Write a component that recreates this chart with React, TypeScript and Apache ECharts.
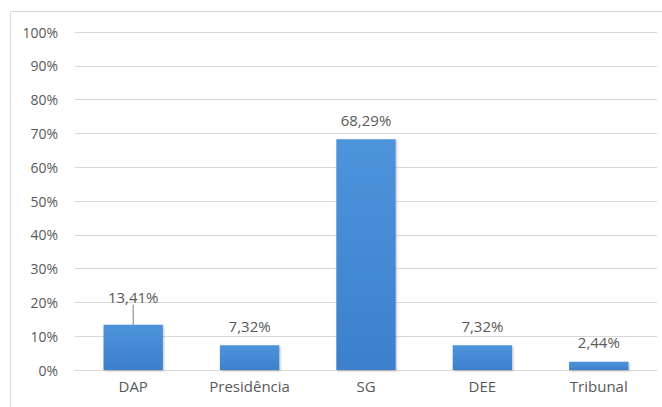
import React, { useEffect, useRef } from "react";
import * as echarts from "echarts";

const categories = ["DAP", "Presidência", "SG", "DEE", "Tribunal"];
const values = [13.41, 7.32, 68.29, 7.32, 2.44];
const yTicks = [0, 10, 20, 30, 40, 50, 60, 70, 80, 90, 100];

export default function App() {
  const ref = useRef<HTMLDivElement>(null);
  useEffect(() => {
    document.body.style.margin = "0";
    const chart = echarts.init(ref.current!, undefined, { renderer: "svg" });
    const font = "Open Sans";
    chart.setOption({
      animation: false,
      backgroundColor: "#ffffff",
      textStyle: { fontFamily: font },
      graphic: [
        {
          type: "rect",
          shape: { x: 10.5, y: 11.5, width: 700, height: 500 },
          style: { fill: "none", stroke: "#d9d9d9", lineWidth: 1 },
          silent: true,
        },
      ],
      grid: { left: 75, right: 5, top: 32, bottom: 37 },
      xAxis: {
        type: "category",
        data: categories,
        axisLine: { lineStyle: { color: "#d9d9d9" } },
        axisTick: { show: false },
        axisLabel: { color: "#595959", fontSize: 15, margin: 8, fontFamily: font },
      },
      yAxis: {
        type: "value",
        min: yTicks[0],
        max: yTicks[yTicks.length - 1],
        interval: 10,
        axisLine: { show: false },
        axisTick: { show: false },
        splitLine: { lineStyle: { color: "#d9d9d9" } },
        axisLabel: {
          color: "#595959",
          fontSize: 14,
          margin: 17,
          fontFamily: font,
          formatter: (v: number) => v + "%",
        },
      },
      series: [
        {
          type: "bar",
          data: values.map((v, i) =>
            i === 0
              ? { value: v, labelLine: { show: true } }
              : { value: v, labelLine: { show: false } }
          ),
          barWidth: "51%",
          itemStyle: {
            color: new echarts.graphic.LinearGradient(0, 0, 0, 1, [
              { offset: 0, color: "#4d94dc" },
              { offset: 1, color: "#3c80cc" },
            ]),
            shadowColor: "rgba(0,0,0,0.25)",
            shadowBlur: 2,
            shadowOffsetX: 1,
            shadowOffsetY: 1,
          },
          label: {
            show: true,
            position: "top",
            distance: 12,
            color: "#595959",
            fontSize: 15,
            fontFamily: font,
            formatter: (p: any) => p.value.toFixed(2).replace(".", ",") + "%",
          },
          labelLine: { show: false, lineStyle: { color: "#7f7f7f", width: 1 } },
          labelLayout: (p: any) => (p.dataIndex === 0 ? { dy: -8 } : {}),
        },
      ],
    });
    return () => chart.dispose();
  }, []);
  return <div ref={ref} style={{ width: 662, height: 407 }} />;
}
